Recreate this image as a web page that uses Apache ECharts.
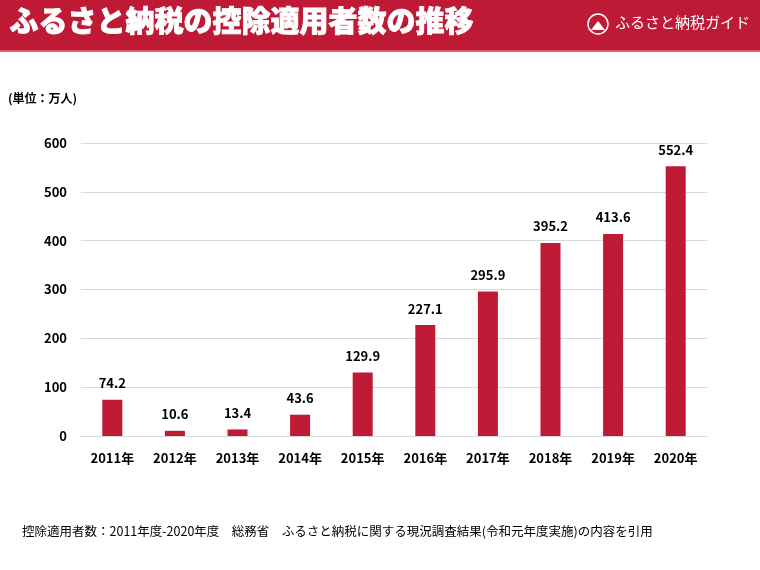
<!DOCTYPE html>
<html><head><meta charset="utf-8">
<script src="https://cdn.jsdelivr.net/npm/echarts@6/dist/echarts.min.js"></script>
<style>html,body{margin:0;padding:0;background:#fff}#c{width:760px;height:570px}</style>
</head><body><div id="c"></div>
<script>
const categories = ['2011年','2012年','2013年','2014年','2015年','2016年','2017年','2018年','2019年','2020年'];
const values = [74.2, 10.6, 13.4, 43.6, 129.9, 227.1, 295.9, 395.2, 413.6, 552.4];
const yTicks = [0, 100, 200, 300, 400, 500, 600];
const RED = '#BE1A35';
const F = '"Noto Sans CJK JP","Noto Sans",sans-serif';
const chart = echarts.init(document.getElementById('c'));
chart.setOption({
  backgroundColor: '#fff',
  animation: false,
  grid: {left: 81, right: 53, top: 143, bottom: 134},
  xAxis: {type: 'category', data: categories,
    axisLine: {lineStyle: {color: '#d9d9d9', width: 1}}, axisTick: {show: false},
    axisLabel: {color: '#000', fontWeight: 'bold', fontSize: 13, fontFamily: F, margin: 16}},
  yAxis: {type: 'value', min: yTicks[0], max: yTicks[yTicks.length-1], interval: 100,
    axisLine: {show: false}, axisTick: {show: false},
    splitLine: {lineStyle: {color: '#d9d9d9'}},
    axisLabel: {color: '#000', fontWeight: 'bold', fontSize: 13, fontFamily: F, margin: 14}},
  series: [{type: 'bar', data: values, barWidth: 20, itemStyle: {color: RED},
    label: {show: true, position: 'top', distance: 10, color: '#000', fontWeight: 'bold', fontSize: 13, fontFamily: F}}],
  graphic: [
    {type: 'rect', left: 0, top: 0, shape: {width: 760, height: 50}, style: {fill: RED}},
    {type: 'rect', left: 0, top: 50, shape: {width: 760, height: 2}, style: {fill: '#D9606F'}},
    {type: 'text', left: 9, top: 6, style: {text: 'ふるさと納税の控除適用者数の推移', fill: '#fff', font: '900 29px ' + F, stroke: '#fff', lineWidth: 0.8}},
    {type: 'circle', shape: {cx: 598, cy: 24, r: 10}, style: {fill: 'none', stroke: '#fff', lineWidth: 1.5}},
    {type: 'polygon', shape: {points: [[591,30],[598,21],[605,30]]}, style: {fill: '#fff'}},
    {type: 'text', left: 615, top: 15, style: {text: 'ふるさと納税ガイド', fill: '#fff', font: '15px ' + F}},
    {type: 'text', left: 8, top: 92, style: {text: '(単位：万人)', fill: '#000', font: 'bold 12px ' + F}},
    {type: 'text', left: 22, top: 525, style: {text: '控除適用者数：2011年度-2020年度　総務省　ふるさと納税に関する現況調査結果(令和元年度実施)の内容を引用', fill: '#000', font: '12.5px ' + F}}
  ]
});
</script></body></html>
